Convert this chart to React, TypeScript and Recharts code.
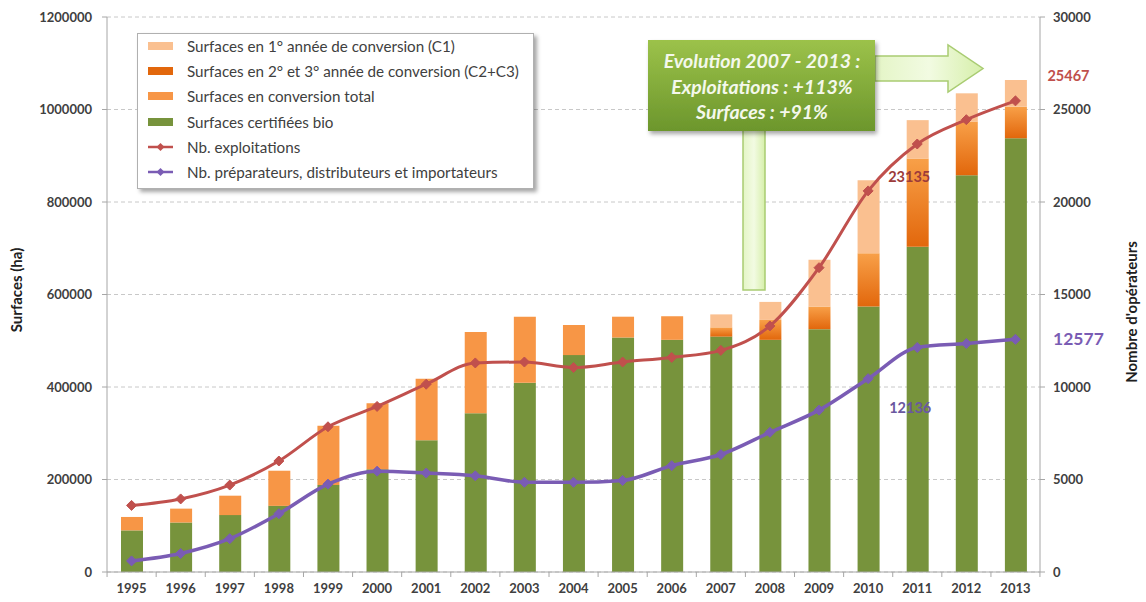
import React from 'react';
import { ComposedChart, Bar, Line, XAxis, YAxis, CartesianGrid } from 'recharts';

const years = ['1995','1996','1997','1998','1999','2000','2001','2002','2003','2004','2005','2006','2007','2008','2009','2010','2011','2012','2013'];
const certifiees = [90000,107000,123000,143000,188000,222000,285000,343000,409000,469000,507000,502000,509000,502000,525000,574000,703000,858000,938000];
const conversionTotal = [29000,30000,42000,76000,128000,143000,133000,176000,143000,65000,45000,51000,null,null,null,null,null,null,null];
const conversionC2C3 = [null,null,null,null,null,null,null,null,null,null,null,null,20000,43000,49000,115000,191000,116000,68000];
const conversionC1 = [null,null,null,null,null,null,null,null,null,null,null,null,28000,39000,101000,158000,83000,61000,58000];
const exploitations = [3600,3950,4700,6000,7850,8950,10150,11300,11350,11050,11350,11600,11980,13300,16450,20600,23135,24450,25467];
const preparateurs = [600,1000,1800,3150,4750,5450,5350,5200,4850,4850,4950,5750,6350,7550,8750,10450,12136,12350,12577];

const leftTicks = [0,200000,400000,600000,800000,1000000,1200000];
const rightTicks = [0,5000,10000,15000,20000,25000,30000];

const labelledExpl = ['2011','2013'];
const labelledPrep = ['2011','2013'];

const annotationLines = ['Evolution 2007 - 2013 :', 'Exploitations : +113%', 'Surfaces : +91%'];

const C = {
  c1: '#FAC090',
  c23a: '#F8A048',
  c23b: '#E2670C',
  conv: '#F79646',
  green: '#77933C',
  red: '#C0504D',
  purple: '#7A5CB4',
  axis: '#A6A6A6',
  text: '#404040',
};

const legendItems = [
  { name: 'Surfaces en 1° année de conversion (C1)', type: 'rect', color: C.c1 },
  { name: 'Surfaces en 2° et 3° année de conversion (C2+C3)', type: 'rect', color: C.c23b },
  { name: 'Surfaces en conversion total', type: 'rect', color: C.conv },
  { name: 'Surfaces certifiées bio', type: 'rect', color: C.green },
  { name: 'Nb. exploitations', type: 'line', color: C.red },
  { name: 'Nb. préparateurs, distributeurs et importateurs', type: 'line', color: C.purple },
];

const data = years.map((y, i) => ({
  year: y,
  certifiees: certifiees[i],
  conversionTotal: conversionTotal[i],
  c23: conversionC2C3[i],
  c1: conversionC1[i],
  exploitations: exploitations[i],
  preparateurs: preparateurs[i],
}));

const FONT = 'Lato, "Open Sans", sans-serif';

const diamond = (color: string, r: number) => (props: any) => {
  const { cx, cy, index } = props;
  if (cx == null || cy == null) return <g key={index} />;
  return (
    <path key={index} d={`M${cx},${cy - r}L${cx + r},${cy}L${cx},${cy + r}L${cx - r},${cy}Z`} fill={color} stroke={color} strokeWidth={1} />
  );
};

const XTick = (props: any) => {
  const { x, y, payload, index } = props;
  return (
    <g>
      <line x1={x - 24.5} x2={x - 24.5} y1={y - 8} y2={y - 3} stroke={C.axis} />
      {index === years.length - 1 && <line x1={x + 24.5} x2={x + 24.5} y1={y - 8} y2={y - 3} stroke={C.axis} />}
      <text x={x} y={y + 13} textAnchor="middle" fontFamily={FONT} fontWeight="bold" fontSize={13} fill={C.text}>{payload.value}</text>
    </g>
  );
};

const explLabel = (props: any) => {
  const { x, y, value, index } = props;
  const yr = years[index];
  if (!labelledExpl.includes(yr)) return null;
  if (yr === '2013') {
    return <text key={index} x={x + 53} y={y - 20} textAnchor="middle" fontFamily={FONT} fontWeight="bold" fontSize={14.5} fill={C.red}>{value}</text>;
  }
  return <text key={index} x={x - 8} y={y + 38} textAnchor="middle" fontFamily={FONT} fontWeight="bold" fontSize={14.5} fill="#9C3B3A">{value}</text>;
};

const prepLabel = (props: any) => {
  const { x, y, value, index } = props;
  const yr = years[index];
  if (!labelledPrep.includes(yr)) return null;
  if (yr === '2013') {
    return <text key={index} x={x + 63} y={y + 6} textAnchor="middle" fontFamily={FONT} fontWeight="bold" fontSize={17.5} fill={C.purple}>{value}</text>;
  }
  return <text key={index} x={x - 7} y={y + 66} textAnchor="middle" fontFamily={FONT} fontWeight="bold" fontSize={14.5} fill="#6A58A0">{value}</text>;
};

const Legend = () => (
  <div style={{ position: 'absolute', left: 137, top: 33, width: 397, height: 156, background: '#fff', border: '1px solid #B0B0B0', boxShadow: '3px 3px 4px rgba(0,0,0,0.35)', boxSizing: 'border-box' }}>
    {legendItems.map((it, i) => (
      <div key={it.name} style={{ position: 'absolute', left: 9, top: 2 + i * 25.2, height: 20, display: 'flex', alignItems: 'center' }}>
        <svg width={28} height={12} style={{ marginRight: 12 }}>
          {it.type === 'rect' ? (
            <rect x={1} y={2} width={25} height={8} fill={it.color} />
          ) : (
            <g>
              <line x1={1} x2={26} y1={6} y2={6} stroke={it.color} strokeWidth={2.5} />
              <path d="M13.5,2L17.5,6L13.5,10L9.5,6Z" fill={it.color} />
            </g>
          )}
        </svg>
        <span style={{ fontFamily: FONT, fontSize: 15.2, color: '#404040', whiteSpace: 'nowrap' }}>{it.name}</span>
      </div>
    ))}
  </div>
);

const Overlay = () => (
  <svg width={1146} height={602} style={{ position: 'absolute', left: 0, top: 0, pointerEvents: 'none' }}>
    <defs>
      <linearGradient id="boxG" x1="0" y1="0" x2="0" y2="1">
        <stop offset="0" stopColor="#9CC24A" />
        <stop offset="1" stopColor="#6C962C" />
      </linearGradient>
      <linearGradient id="barG" x1="0" y1="0" x2="1" y2="0">
        <stop offset="0" stopColor="#E4F5C6" />
        <stop offset="0.5" stopColor="#F2FBE2" />
        <stop offset="1" stopColor="#D6EFAA" />
      </linearGradient>
      <filter id="sh" x="-10%" y="-10%" width="130%" height="140%">
        <feDropShadow dx="2" dy="3" stdDeviation="2" floodOpacity="0.35" />
      </filter>
    </defs>
    <text transform="translate(22,290) rotate(-90)" textAnchor="middle" fontFamily={FONT} fontWeight="bold" fontSize={15} fill="#202020">Surfaces (ha)</text>
    <text transform="translate(1137,312) rotate(-90)" textAnchor="middle" fontFamily={FONT} fontWeight="bold" fontSize={15} fill="#202020">Nombre d'opérateurs</text>
    <rect x={743} y={128} width={22} height={162} fill="url(#barG)" stroke="#A9CC72" strokeWidth={1.5} />
    <path d="M875,56 L948,56 L948,45 L983,68.5 L948,92 L948,81 L875,81 Z" fill="url(#barG)" stroke="#A9CC72" strokeWidth={1.5} />
    <rect x={648} y={40} width={227} height={91} fill="url(#boxG)" filter="url(#sh)" />
    {annotationLines.map((t, i) => (
      <text key={t} x={762} y={68 + i * 25.5} textAnchor="middle" fontFamily={FONT} fontStyle="italic" fontWeight="bold" fontSize={19.5} fill="#F4F8EC">{t}</text>
    ))}
  </svg>
);

export default function App() {
  return (
    <div style={{ position: 'absolute', left: 0, top: 0, width: 1146, height: 602, background: '#fff' }}>
      <ComposedChart width={1146} height={602} data={data} margin={{ top: 17, right: 0, bottom: 0, left: 0 }} barCategoryGap={0}>
        <defs>
          <linearGradient id="c23G" x1="0" y1="0" x2="0" y2="1">
            <stop offset="0" stopColor={C.c23a} />
            <stop offset="1" stopColor={C.c23b} />
          </linearGradient>
        </defs>
        <CartesianGrid yAxisId="left" vertical={false} strokeDasharray="4 3" stroke="#C8C8C8" />
        <XAxis dataKey="year" height={30} tickLine={false} axisLine={{ stroke: C.axis }} tick={<XTick />} interval={0} />
        <YAxis yAxisId="left" width={107} domain={[0, 1200000]} ticks={leftTicks} interval={0} tickSize={5} tickMargin={10}
          axisLine={{ stroke: C.axis }} tickLine={{ stroke: C.axis }}
          tick={{ fontFamily: FONT, fontWeight: 'bold', fontSize: 13, fill: C.text }} />
        <YAxis yAxisId="right" orientation="right" width={106} domain={[0, 30000]} ticks={rightTicks} interval={0} tickSize={5} tickMargin={8}
          axisLine={{ stroke: C.axis }} tickLine={{ stroke: C.axis }}
          tick={{ fontFamily: FONT, fontWeight: 'bold', fontSize: 13, fill: C.text, textAnchor: 'start' }} />
        <Bar yAxisId="left" dataKey="certifiees" stackId="s" fill={C.green} barSize={22} isAnimationActive={false} />
        <Bar yAxisId="left" dataKey="conversionTotal" stackId="s" fill={C.conv} barSize={22} isAnimationActive={false} />
        <Bar yAxisId="left" dataKey="c23" stackId="s" fill="url(#c23G)" barSize={22} isAnimationActive={false} />
        <Bar yAxisId="left" dataKey="c1" stackId="s" fill={C.c1} barSize={22} isAnimationActive={false} />
        <Line yAxisId="right" dataKey="exploitations" type="monotone" stroke={C.red} strokeWidth={3} dot={diamond(C.red, 5)} label={explLabel} isAnimationActive={false} />
        <Line yAxisId="right" dataKey="preparateurs" type="monotone" stroke={C.purple} strokeWidth={3.5} dot={diamond(C.purple, 5)} label={prepLabel} isAnimationActive={false} />
      </ComposedChart>
      <Legend />
      <Overlay />
    </div>
  );
}
